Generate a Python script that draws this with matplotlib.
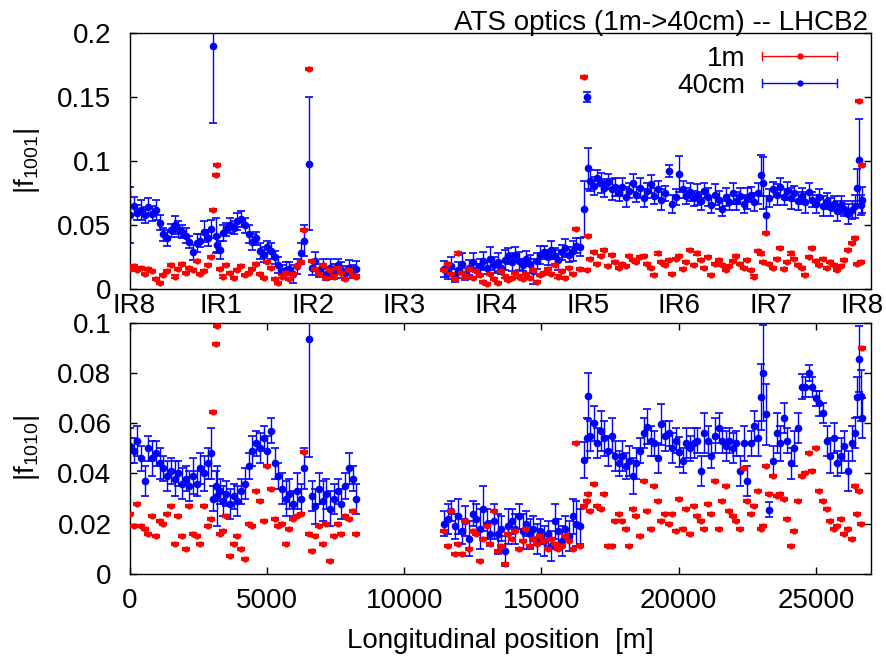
import numpy as np
import matplotlib
matplotlib.use('Agg')
import matplotlib.pyplot as plt
from matplotlib.legend_handler import HandlerBase
from matplotlib.lines import Line2D

plt.rcParams['font.family'] = ['Liberation Sans', 'DejaVu Sans']
plt.rcParams['mathtext.fontset'] = 'custom'
plt.rcParams['mathtext.rm'] = 'Liberation Sans'
plt.rcParams['mathtext.it'] = 'Liberation Sans:italic'

# ---------------- data ----------------
TITLE = 'ATS optics (1m->40cm) -- LHCB2'
X_LABEL = 'Longitudinal position  [m]'
Y_LABEL_TOP = '|f$_{1001}$|'
Y_LABEL_BOT = '|f$_{1010}$|'
SERIES = ['1m', '40cm']
IR_LABELS = ['IR8', 'IR1', 'IR2', 'IR3', 'IR4', 'IR5', 'IR6', 'IR7', 'IR8']
IR_POS = [150, 3330, 6680, 10010, 13340, 16680, 20000, 23340, 26660]
X_TICKS = [0, 5000, 10000, 15000, 20000, 25000]
Y_TICKS_TOP = [0, 0.05, 0.1, 0.15, 0.2]
Y_TICKS_BOT = [0, 0.02, 0.04, 0.06, 0.08, 0.1]

# BPM longitudinal positions [m]
S = [20, 150, 290, 420, 560, 690, 830, 960, 1100, 1230,
     1370, 1500, 1640, 1770, 1910, 2040, 2180, 2310, 2450, 2580,
     2720, 2850, 2950, 3030, 3150, 3190, 3300, 3420, 3530, 3660,
     3800, 3930, 4070, 4200, 4340, 4470, 4610, 4740, 4880, 5010,
     5150, 5280, 5420, 5550, 5690, 5820, 5960, 6090, 6230, 6360,
     6530, 6630, 6770, 6900, 7040, 7170, 7310, 7440, 7580, 7710,
     7850, 7980, 8120, 8250,
     11450, 11580, 11710, 11840, 11970, 12100, 12230, 12360, 12490, 12620,
     12750, 12880, 13010, 13140, 13270, 13400, 13530, 13660, 13790, 13920,
     14050, 14180, 14310, 14440, 14570, 14700, 14830, 14960, 15090, 15220,
     15350, 15480, 15610, 15740, 15870, 16000, 16130, 16260, 16390, 16550,
     16640, 16700, 16780, 16900, 17030, 17160, 17290, 17420, 17550, 17680,
     17810, 17940, 18070, 18200, 18330, 18460, 18590, 18720, 18850, 18980,
     19110, 19240, 19370, 19500, 19630, 19760, 19890, 20020, 20150, 20280,
     20410, 20540, 20670, 20800, 20930, 21060, 21190, 21320, 21450, 21580,
     21710, 21840, 21970, 22100, 22230, 22360, 22490, 22620, 22750, 22880,
     22990, 23080, 23170, 23300, 23430, 23560, 23690, 23820, 23950, 24080,
     24210, 24340, 24470, 24600, 24730, 24860, 24990, 25120, 25250, 25380,
     25510, 25640, 25770, 25900, 26030, 26160, 26290, 26400, 26480, 26550,
     26620, 26660]

# |f1001|, 1m optics
F1001_1M = [0.016, 0.018, 0.015, 0.017, 0.012, 0.016, 0.014, 0.008, 0.005, 0.011,
            0.014, 0.019, 0.010, 0.016, 0.020, 0.013, 0.017, 0.015, 0.022, 0.012,
            0.014, 0.019, 0.025, 0.062, 0.089, 0.097, 0.016, 0.010, 0.019, 0.013,
            0.009, 0.015, 0.018, 0.011, 0.013, 0.016, 0.020, 0.012, 0.009, 0.021,
            0.017, 0.008, 0.005, 0.010, 0.013, 0.008, 0.012, 0.018, 0.021, 0.046,
            0.172, 0.022, 0.016, 0.012, 0.019, 0.009, 0.015, 0.010, 0.017, 0.013,
            0.008, 0.015, 0.011, 0.010,
            0.015, 0.020, 0.012, 0.008, 0.028, 0.013, 0.010, 0.016, 0.009, 0.014,
            0.011, 0.006, 0.004, 0.012, 0.008, 0.005, 0.014, 0.010, 0.007, 0.009,
            0.013, 0.010, 0.008, 0.012, 0.009, 0.015, 0.006, 0.011, 0.013, 0.016,
            0.012, 0.019, 0.010, 0.014, 0.009, 0.017, 0.012, 0.047, 0.016, 0.166,
            0.015, 0.042, 0.024, 0.029, 0.020, 0.026, 0.031, 0.018, 0.027, 0.021,
            0.017, 0.020, 0.018, 0.026, 0.023, 0.021, 0.025, 0.026, 0.020, 0.017,
            0.011, 0.028, 0.021, 0.019, 0.023, 0.012, 0.024, 0.026, 0.016, 0.021,
            0.031, 0.019, 0.028, 0.023, 0.017, 0.025, 0.011, 0.020, 0.023, 0.019,
            0.015, 0.018, 0.022, 0.026, 0.020, 0.017, 0.023, 0.015, 0.010, 0.030,
            0.028, 0.021, 0.044, 0.020, 0.017, 0.024, 0.032, 0.016, 0.021, 0.028,
            0.024, 0.019, 0.017, 0.011, 0.025, 0.032, 0.022, 0.019, 0.024, 0.017,
            0.021, 0.019, 0.015, 0.018, 0.023, 0.031, 0.036, 0.040, 0.020, 0.147,
            0.021, 0.097]

# |f1001|, 40cm optics
F1001_40CM = [0.058, 0.065, 0.060, 0.062, 0.058, 0.064, 0.059, 0.062, 0.052, 0.043,
              0.040, 0.046, 0.050, 0.047, 0.045, 0.042, 0.037, 0.029, 0.036, 0.038,
              0.045, 0.040, 0.047, 0.190, 0.042, 0.035, 0.031, 0.044, 0.047, 0.050,
              0.048, 0.053, 0.055, 0.050, 0.043, 0.037, 0.040, 0.030, 0.027, 0.033,
              0.030, 0.025, 0.019, 0.014, 0.015, 0.016, 0.012, 0.018, 0.028, 0.038,
              0.098, 0.017, 0.022, 0.015, 0.018, 0.012, 0.017, 0.014, 0.019, 0.015,
              0.013, 0.017, 0.014, 0.016,
              0.016, 0.013, 0.018, 0.011, 0.015, 0.020, 0.012, 0.017, 0.021, 0.015,
              0.018, 0.022, 0.017, 0.024, 0.019, 0.021, 0.017, 0.023, 0.026, 0.021,
              0.027, 0.022, 0.019, 0.024, 0.020, 0.014, 0.022, 0.027, 0.029, 0.025,
              0.031, 0.026, 0.023, 0.029, 0.032, 0.027, 0.030, 0.034, 0.033, 0.0625,
              0.1505, 0.0945, 0.085, 0.081, 0.087, 0.083, 0.079, 0.084, 0.078, 0.080,
              0.075, 0.080, 0.072, 0.077, 0.083, 0.074, 0.079, 0.071, 0.077, 0.082,
              0.073, 0.078, 0.070, 0.075, 0.0925, 0.067, 0.072, 0.090, 0.078, 0.073,
              0.076, 0.071, 0.074, 0.069, 0.077, 0.072, 0.066, 0.074, 0.070, 0.063,
              0.072, 0.068, 0.075, 0.069, 0.073, 0.067, 0.071, 0.074, 0.068, 0.075,
              0.089, 0.083, 0.058, 0.071, 0.078, 0.074, 0.080, 0.072, 0.077, 0.071,
              0.075, 0.069, 0.073, 0.068, 0.076, 0.070, 0.067, 0.072, 0.065, 0.069,
              0.064, 0.067, 0.061, 0.066, 0.063, 0.059, 0.062, 0.065, 0.079, 0.101,
              0.066, 0.070]

F1001_40CM_ERR = [0.022, 0.007, 0.006, 0.008, 0.006, 0.007, 0.006, 0.008, 0.006, 0.005,
                  0.006, 0.005, 0.007, 0.006, 0.005, 0.006, 0.005, 0.006, 0.007, 0.005,
                  0.008, 0.006, 0.007, 0.060, 0.014, 0.006, 0.007, 0.006, 0.005, 0.006,
                  0.005, 0.007, 0.006, 0.006, 0.007, 0.006, 0.005, 0.006, 0.006, 0.005,
                  0.006, 0.005, 0.006, 0.005, 0.006, 0.005, 0.007, 0.006, 0.008, 0.012,
                  0.052, 0.006, 0.007, 0.005, 0.006, 0.005, 0.007, 0.006, 0.005, 0.006,
                  0.005, 0.006, 0.005, 0.006,
                  0.006, 0.005, 0.007, 0.005, 0.006, 0.008, 0.005, 0.006, 0.007, 0.005,
                  0.006, 0.007, 0.005, 0.009, 0.006, 0.007, 0.005, 0.008, 0.006, 0.007,
                  0.006, 0.007, 0.005, 0.006, 0.007, 0.010, 0.006, 0.007, 0.005, 0.006,
                  0.007, 0.006, 0.008, 0.006, 0.007, 0.006, 0.008, 0.006, 0.007, 0.022,
                  0.004, 0.016, 0.008, 0.007, 0.006, 0.008, 0.007, 0.006, 0.008, 0.007,
                  0.006, 0.007, 0.008, 0.006, 0.007, 0.006, 0.008, 0.007, 0.006, 0.007,
                  0.006, 0.007, 0.008, 0.006, 0.005, 0.007, 0.006, 0.014, 0.007, 0.006,
                  0.007, 0.006, 0.008, 0.007, 0.006, 0.007, 0.006, 0.008, 0.007, 0.006,
                  0.007, 0.006, 0.008, 0.007, 0.006, 0.007, 0.008, 0.006, 0.007, 0.008,
                  0.016, 0.020, 0.015, 0.007, 0.006, 0.008, 0.007, 0.006, 0.007, 0.008,
                  0.006, 0.007, 0.006, 0.008, 0.007, 0.006, 0.007, 0.006, 0.008, 0.006,
                  0.007, 0.006, 0.008, 0.007, 0.006, 0.008, 0.007, 0.009, 0.015, 0.032,
                  0.008, 0.010]

# |f1010|, 1m optics
F1010_1M = [0.024, 0.019, 0.028, 0.019, 0.018, 0.016, 0.023, 0.015, 0.021, 0.020,
            0.024, 0.027, 0.012, 0.023, 0.015, 0.010, 0.027, 0.016, 0.015, 0.012,
            0.027, 0.019, 0.022, 0.0646, 0.0915, 0.0987, 0.016, 0.017, 0.023, 0.007,
            0.012, 0.015, 0.010, 0.006, 0.020, 0.019, 0.033, 0.029, 0.021, 0.043,
            0.034, 0.022, 0.019, 0.020, 0.012, 0.018, 0.022, 0.023, 0.024, 0.0487,
            0.016, 0.009, 0.015, 0.019, 0.012, 0.020, 0.005, 0.015, 0.020, 0.016,
            0.023, 0.022, 0.025, 0.016,
            0.017, 0.011, 0.025, 0.008, 0.012, 0.008, 0.021, 0.010, 0.017, 0.016,
            0.005, 0.014, 0.019, 0.012, 0.025, 0.009, 0.011, 0.004, 0.016, 0.014,
            0.017, 0.010, 0.013, 0.018, 0.011, 0.014, 0.012, 0.015, 0.013, 0.010,
            0.014, 0.012, 0.010, 0.011, 0.015, 0.013, 0.010, 0.052, 0.011, 0.027,
            0.029, 0.032, 0.025, 0.036, 0.027, 0.026, 0.032, 0.011, 0.011, 0.021,
            0.024, 0.021, 0.018, 0.011, 0.026, 0.023, 0.015, 0.037, 0.025, 0.018,
            0.035, 0.029, 0.021, 0.024, 0.020, 0.024, 0.017, 0.030, 0.018, 0.026,
            0.016, 0.027, 0.023, 0.021, 0.018, 0.028, 0.024, 0.037, 0.018, 0.029,
            0.035, 0.025, 0.023, 0.021, 0.018, 0.042, 0.029, 0.024, 0.027, 0.033,
            0.018, 0.019, 0.043, 0.032, 0.039, 0.031, 0.032, 0.030, 0.022, 0.011,
            0.017, 0.029, 0.039, 0.040, 0.048, 0.041, 0.050, 0.033, 0.029, 0.026,
            0.021, 0.018, 0.019, 0.022, 0.016, 0.018, 0.014, 0.035, 0.024, 0.033,
            0.020, 0.090]

# |f1010|, 40cm optics
F1010_40CM = [0.051, 0.049, 0.053, 0.046, 0.037, 0.050, 0.046, 0.048, 0.044, 0.042,
              0.039, 0.041, 0.038, 0.040, 0.036, 0.038, 0.035, 0.039, 0.036, 0.042,
              0.040, 0.044, 0.048, 0.030, 0.035, 0.031, 0.033, 0.029, 0.032, 0.028,
              0.031, 0.029, 0.033, 0.036, 0.043, 0.049, 0.052, 0.050, 0.054, 0.049,
              0.057, 0.044, 0.039, 0.034, 0.030, 0.032, 0.028, 0.033, 0.030, 0.042,
              0.0935, 0.031, 0.027, 0.034, 0.029, 0.032, 0.026, 0.030, 0.033, 0.028,
              0.035, 0.042, 0.038, 0.030,
              0.020, 0.022, 0.025, 0.019, 0.023, 0.017, 0.021, 0.014, 0.024, 0.022,
              0.018, 0.026, 0.020, 0.016, 0.021, 0.016, 0.018, 0.009, 0.019, 0.021,
              0.018, 0.023, 0.017, 0.020, 0.016, 0.018, 0.014, 0.017, 0.013, 0.016,
              0.011, 0.021, 0.017, 0.013, 0.018, 0.015, 0.023, 0.020, 0.019, 0.0454,
              0.054, 0.0708, 0.055, 0.060, 0.052, 0.057, 0.054, 0.049, 0.055, 0.047,
              0.044, 0.047, 0.043, 0.045, 0.039, 0.044, 0.049, 0.056, 0.0586, 0.053,
              0.052, 0.046, 0.0595, 0.055, 0.056, 0.050, 0.053, 0.0486, 0.045, 0.052,
              0.050, 0.052, 0.053, 0.041, 0.056, 0.053, 0.047, 0.055, 0.058, 0.053,
              0.051, 0.053, 0.050, 0.052, 0.041, 0.052, 0.037, 0.052, 0.059, 0.054,
              0.0705, 0.080, 0.0635, 0.0255, 0.045, 0.056, 0.052, 0.062, 0.053, 0.044,
              0.050, 0.058, 0.0745, 0.0745, 0.080, 0.0745, 0.070, 0.068, 0.064, 0.053,
              0.047, 0.054, 0.044, 0.047, 0.051, 0.041, 0.052, 0.056, 0.0705, 0.0855,
              0.071, 0.062]

F1010_40CM_ERR = [0.007, 0.005, 0.006, 0.005, 0.006, 0.005, 0.007, 0.005, 0.006, 0.005,
                  0.006, 0.005, 0.007, 0.005, 0.006, 0.005, 0.006, 0.007, 0.005, 0.006,
                  0.007, 0.006, 0.010, 0.005, 0.006, 0.012, 0.005, 0.006, 0.005, 0.006,
                  0.005, 0.006, 0.005, 0.006, 0.005, 0.006, 0.005, 0.006, 0.005, 0.006,
                  0.005, 0.006, 0.005, 0.006, 0.007, 0.006, 0.005, 0.007, 0.006, 0.008,
                  0.047, 0.006, 0.007, 0.006, 0.008, 0.006, 0.007, 0.006, 0.005, 0.006,
                  0.005, 0.006, 0.005, 0.006,
                  0.005, 0.006, 0.004, 0.005, 0.007, 0.005, 0.006, 0.007, 0.005, 0.006,
                  0.008, 0.009, 0.006, 0.005, 0.007, 0.008, 0.005, 0.006, 0.007, 0.005,
                  0.006, 0.005, 0.007, 0.005, 0.006, 0.005, 0.006, 0.005, 0.006, 0.005,
                  0.006, 0.007, 0.005, 0.006, 0.005, 0.006, 0.007, 0.009, 0.007, 0.007,
                  0.008, 0.009, 0.006, 0.007, 0.006, 0.008, 0.007, 0.006, 0.007, 0.006,
                  0.005, 0.006, 0.005, 0.006, 0.007, 0.006, 0.005, 0.006, 0.007, 0.006,
                  0.005, 0.006, 0.008, 0.006, 0.005, 0.006, 0.005, 0.006, 0.005, 0.006,
                  0.005, 0.006, 0.005, 0.006, 0.008, 0.006, 0.005, 0.007, 0.006, 0.005,
                  0.006, 0.005, 0.006, 0.005, 0.006, 0.007, 0.006, 0.005, 0.006, 0.007,
                  0.013, 0.019, 0.012, 0.003, 0.006, 0.008, 0.007, 0.006, 0.005, 0.006,
                  0.007, 0.006, 0.005, 0.004, 0.003, 0.004, 0.003, 0.005, 0.004, 0.006,
                  0.007, 0.006, 0.005, 0.007, 0.006, 0.008, 0.007, 0.006, 0.008, 0.013,
                  0.010, 0.008]

RED_ERR_TOP = 0.0008
RED_ERR_BOT = 0.0004

RED = '#ff0000'
BLUE = '#0000ff'
FS = 20

# ---------------- figure ----------------
fig = plt.figure(figsize=(8.86, 6.61), dpi=100)
ax1 = fig.add_axes([0.1462, 0.5623, 0.8369, 0.3873])
ax2 = fig.add_axes([0.1462, 0.1316, 0.8369, 0.3802])


def draw(ax, red, blue, blue_err, red_err):
    ax.errorbar(S, blue, yerr=blue_err, fmt='o', color=BLUE, ms=4.5,
                mec=BLUE, elinewidth=1.0, capsize=2.9, capthick=1.2, zorder=2)
    ax.errorbar(S, red, yerr=red_err, fmt='o', color=RED, ms=3.4,
                mec=RED, elinewidth=1.0, capsize=3.0, capthick=1.6, zorder=3)


draw(ax1, F1001_1M, F1001_40CM, F1001_40CM_ERR, RED_ERR_TOP)
draw(ax2, F1010_1M, F1010_40CM, F1010_40CM_ERR, RED_ERR_BOT)

for ax in (ax1, ax2):
    ax.set_xlim(0, 27000)
    for sp in ax.spines.values():
        sp.set_linewidth(1.0)

ax1.set_ylim(0, 0.2)
ax1.set_yticks(Y_TICKS_TOP)
ax1.set_yticklabels(['0', '0.05', '0.1', '0.15', '0.2'], fontsize=FS)
ax1.set_xticks(IR_POS)
ax1.set_xticklabels(IR_LABELS, fontsize=FS)
ax1.tick_params(axis='x', length=0, pad=2.5)
ax1.tick_params(axis='y', direction='in', length=5, width=1, right=True, pad=13)
ax1.set_ylabel(Y_LABEL_TOP, fontsize=FS, labelpad=11)

ax2.set_ylim(0, 0.1)
ax2.set_yticks(Y_TICKS_BOT)
ax2.set_yticklabels(['0', '0.02', '0.04', '0.06', '0.08', '0.1'], fontsize=FS)
ax2.set_xticks(X_TICKS)
ax2.set_xticklabels([str(v) for v in X_TICKS], fontsize=FS)
ax2.tick_params(axis='both', direction='in', length=5, width=1, top=True, right=True)
ax2.tick_params(axis='y', pad=13)
ax2.tick_params(axis='x', pad=10)
ax2.set_ylabel(Y_LABEL_BOT, fontsize=FS, labelpad=11)
ax2.set_xlabel(X_LABEL, fontsize=FS, labelpad=10)

fig.text(868 / 886, 1 - 30 / 661, TITLE, ha='right', va='baseline', fontsize=FS)


class HErrHandler(HandlerBase):
    def create_artists(self, legend, orig_handle, xdescent, ydescent,
                       width, height, fontsize, trans):
        c = orig_handle.get_color()
        y = (height - ydescent) / 2.0
        x0 = -xdescent
        x1 = x0 + width
        h = 2.9
        line = Line2D([x0, x1], [y, y], color=c, lw=1.0)
        caps = Line2D([x0, x0, np.nan, x1, x1], [y - h, y + h, np.nan, y - h, y + h],
                      color=c, lw=1.0)
        dot = Line2D([(x0 + x1) / 2.0], [y], marker='o', ms=3.5, color=c, ls='none')
        for a in (line, caps, dot):
            a.set_transform(trans)
        return [line, caps, dot]


handles = [Line2D([], [], color=RED), Line2D([], [], color=BLUE)]
ax1.legend(handles=handles, labels=SERIES, handler_map={Line2D: HErrHandler()},
           loc='upper right', bbox_to_anchor=(0.9546, 0.952), frameon=False,
           markerfirst=False, handlelength=2.7, handletextpad=0.6,
           borderpad=0, borderaxespad=0, labelspacing=0.05, fontsize=FS)

fig.savefig('out.png', dpi=100)
